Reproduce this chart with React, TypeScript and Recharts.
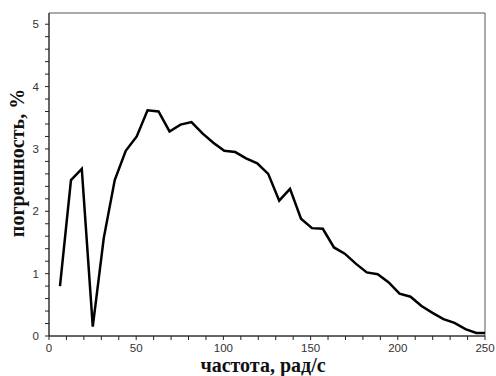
import { LineChart, Line, XAxis, YAxis, ReferenceArea, Label } from "recharts";

// ── Data ──────────────────────────────────────────────────────────────────────

const freq = [
    6.3, 12.6, 18.8, 25.1, 31.4, 37.7, 44.0, 50.3, 56.5, 62.8,
    69.1, 75.4, 81.7, 88.0, 94.2, 100.5, 106.8, 113.0, 119.4, 125.7,
    132.0, 138.2, 144.5, 150.8, 157.0, 163.4, 169.6, 175.9, 182.2, 188.5,
    194.8, 201.0, 207.3, 213.6, 219.9, 226.2, 232.5, 238.8, 245.0, 250.0,
];

const error = [
    0.8, 2.5, 2.68, 0.15, 1.57, 2.5, 2.97, 3.2, 3.62, 3.6,
    3.28, 3.39, 3.43, 3.25, 3.1, 2.97, 2.95, 2.85, 2.77, 2.6,
    2.17, 2.36, 1.88, 1.73, 1.72, 1.42, 1.32, 1.16, 1.02, 0.99,
    0.86, 0.68, 0.63, 0.48, 0.37, 0.27, 0.21, 0.11, 0.05, 0.05,
];

const xTicks = [0, 10, 20, 30, 40, 50, 60, 70, 80, 90, 100, 110, 120, 130, 140, 150, 160, 170, 180, 190, 200, 210, 220, 230, 240, 250];
const xLabels = [0, 50, 100, 150, 200, 250];

const yTicks = [0, 0.2, 0.4, 0.6, 0.8, 1, 1.2, 1.4, 1.6, 1.8, 2, 2.2, 2.4, 2.6, 2.8, 3, 3.2, 3.4, 3.6, 3.8, 4, 4.2, 4.4, 4.6, 4.8, 5];
const yLabels = [0, 1, 2, 3, 4, 5];

const data = freq.map((f, i) => ({ f, e: error[i] }));

// ── Tick / label renderers ────────────────────────────────────────────────────

const tickFont = { fontFamily: "'Liberation Sans', Arial, sans-serif", fontSize: 11.5, fill: "#333" };
const titleFont = { fontFamily: "'Liberation Serif', 'Times New Roman', serif", fontSize: 20, fontWeight: 700, fill: "#111" };

function XTick(props: any) {
    const { x, y, payload } = props;
    if (!xLabels.includes(payload.value)) return <g />;
    return (
        <text x={x} y={y + 10} textAnchor="middle" {...tickFont}>
            {payload.value}
        </text>
    );
}

function YTick(props: any) {
    const { x, y, payload } = props;
    if (!yLabels.some((v) => Math.abs(v - payload.value) < 1e-6)) return <g />;
    return (
        <text x={x - 4} y={y + 4} textAnchor="end" {...tickFont}>
            {payload.value}
        </text>
    );
}

function XTitle({ viewBox }: any) {
    const cx = viewBox.x + viewBox.width / 2 - 4;
    return (
        <text x={cx} y={372} textAnchor="middle" {...titleFont}>
            частота, рад/с
        </text>
    );
}

function YTitle() {
    return (
        <text x={24} y={163} textAnchor="middle" transform="rotate(-90 24 163)" {...titleFont}>
            погрешность, %
        </text>
    );
}

// ── Chart ─────────────────────────────────────────────────────────────────────

export default function App() {
    return (
        <div style={{ position: "absolute", left: 0, top: 0, width: 496, height: 376, background: "#fff" }}>
            <LineChart
                width={496}
                height={376}
                data={data}
                margin={{ top: 13, right: 11, bottom: 0, left: 0 }}
            >
                <XAxis
                    dataKey="f"
                    type="number"
                    domain={[0, 250]}
                    ticks={xTicks}
                    interval={0}
                    height={40}
                    tickSize={4}
                    tickLine={{ stroke: "#222" }}
                    stroke="#222"
                    tick={<XTick />}
                >
                    <Label content={<XTitle />} />
                </XAxis>
                <YAxis
                    type="number"
                    domain={[0, 5.18]}
                    ticks={yTicks}
                    interval={0}
                    width={49}
                    tickSize={4}
                    tickLine={{ stroke: "#222" }}
                    stroke="#222"
                    tick={<YTick />}
                >
                    <Label content={<YTitle />} />
                </YAxis>
                <ReferenceArea x1={0} x2={250} y1={0} y2={5.18} fill="none" stroke="#555" strokeWidth={1} />
                <Line
                    dataKey="e"
                    type="linear"
                    stroke="#000"
                    strokeWidth={2.5}
                    dot={false}
                    isAnimationActive={false}
                />
            </LineChart>
        </div>
    );
}
